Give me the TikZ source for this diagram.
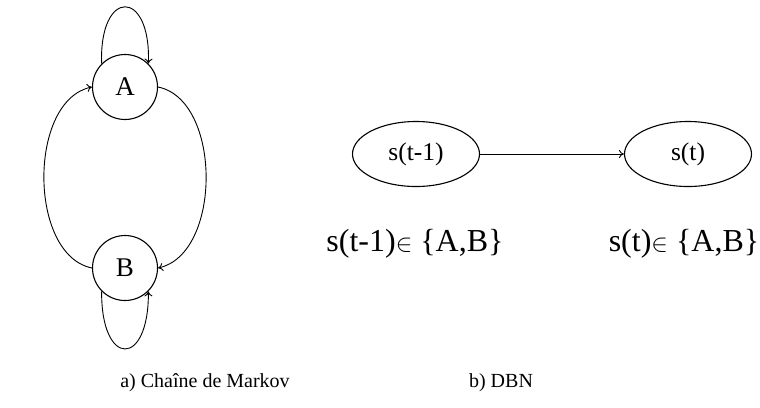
\documentclass[tikz,border=0pt]{standalone}
\usepackage{fontspec}
\setmainfont{Liberation Serif}
\usetikzlibrary{arrows.meta,shapes.geometric}
\begin{document}
\begin{tikzpicture}[x=1pt,y=-1pt,
  state/.style={draw,circle,line width=1.1pt,minimum size=65pt,inner sep=0pt,font=\fontsize{27}{30}\selectfont},
  enode/.style={draw,ellipse,line width=1.1pt,minimum width=127pt,minimum height=65pt,inner sep=0pt,font=\fontsize{25.5}{28}\selectfont},
  conn/.style={line width=0.9pt,-{To[length=5pt,width=8pt]}},
  lbl/.style={font=\fontsize{32}{36}\selectfont},
  captxt/.style={font=\fontsize{20}{24}\selectfont}]
\useasboundingbox (0,0) rectangle (760,407);
\node[state] (A) at (125,87) {A};
\node[state] (B) at (125,268) {B};
\draw[conn] (A.135) .. controls (99,-12) and (151,-12) .. (A.45);
\draw[conn] (B.-135) .. controls (101,368) and (149,368) .. (B.-45);
\draw[conn] (A.east) .. controls (222,100) and (222,254) .. (B.east);
\draw[conn] (B.west) .. controls (28,255) and (28,100) .. (A.west);
\node[enode] (S1) at (416,154) {s(t-1)};
\node[enode] (S2) at (688,154) {s(t)};
\draw[conn] (S1) -- (S2);
\node[lbl] (L1) at (415,244) {s(t-1)$\in$ \{A,B\}};
\node[lbl] (L2) at (684,244) {s(t)$\in$ \{A,B\}};
\node[captxt] (C1) at (205,383) {a) Chaîne de Markov};
\node[captxt] (C2) at (501,383) {b) DBN};
\end{tikzpicture}
\end{document}
